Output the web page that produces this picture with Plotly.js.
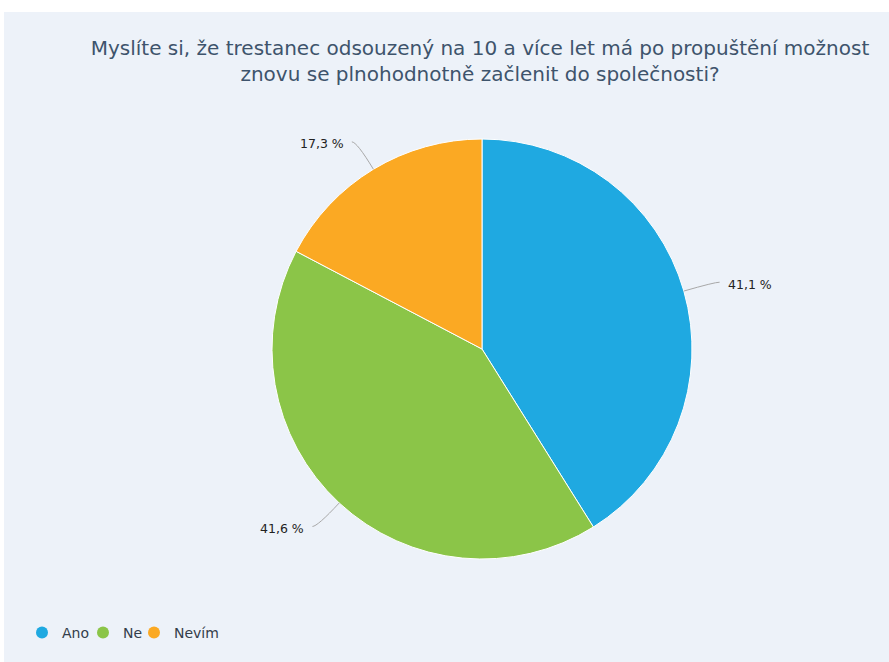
<!DOCTYPE html>
<html>
<head>
<meta charset="utf-8">
<script src="https://cdn.plot.ly/plotly-3.0.1.min.js"></script>
<style>html,body{margin:0;padding:0;background:#fff;}#chart{width:889px;height:662px;}</style>
</head>
<body>
<div id="chart"></div>
<script>
// Data
const categories = ['Ano', 'Ne', 'Nevím'];
const values = [41.1, 41.6, 17.3];
const valueLabels = ['41,1 %', '41,6 %', '17,3 %'];
const colors = ['#1fa9e1', '#8bc548', '#fba923'];
const titleText = 'Myslíte si, že trestanec odsouzený na 10 a více let má po propuštění možnost<br>znovu se plnohodnotně začlenit do společnosti?';

// Layout geometry (pixels)
const W = 889, H = 662;
const cx = 482, cy = 349, R = 210;
const legendX = [22, 83, 134];
const legendNames = ['legend', 'legend2', 'legend3'];

const total = values.reduce((a, b) => a + b, 0);
const shapes = [{
  type: 'rect', xref: 'x', yref: 'y', x0: 4, x1: W, y0: 12, y1: H,
  fillcolor: '#edf2f9', line: {width: 0}, layer: 'below'
}];
const annotations = [];
let cum = 0;
values.forEach((v, i) => {
  const mid = (cum + v / 2) / total * 2 * Math.PI;
  cum += v;
  const sx = Math.sin(mid), sy = -Math.cos(mid);
  const p0 = [cx + R * sx, cy + R * sy];
  const e = [cx + (R + 32) * sx, cy + (R + 32) * sy];
  const dir = sx >= 0 ? 1 : -1;
  const t = [e[0] + dir * 5, e[1]];
  shapes.push({
    type: 'path', xref: 'x', yref: 'y', layer: 'above',
    path: `M ${p0[0]} ${p0[1]} Q ${e[0]} ${e[1]} ${t[0]} ${t[1]}`,
    line: {color: '#a8a8a8', width: 1}
  });
  annotations.push({
    xref: 'x', yref: 'y', x: t[0] + dir * 6, y: t[1] + 2,
    text: valueLabels[i], showarrow: false,
    xanchor: dir > 0 ? 'left' : 'right', yanchor: 'middle',
    font: {family: 'DejaVu Sans', size: 12.5, color: '#222222'}
  });
});

const traces = [{
  type: 'pie', labels: categories, values: values,
  sort: false, direction: 'clockwise', rotation: 0,
  marker: {colors: colors, line: {color: '#ffffff', width: 1}},
  textinfo: 'none', hoverinfo: 'label+percent', showlegend: false,
  domain: {x: [(cx - R) / W, (cx + R) / W], y: [1 - (cy + R) / H, 1 - (cy - R) / H]}
}];
categories.forEach((c, i) => {
  traces.push({
    type: 'scatter', mode: 'markers', x: [null], y: [null], name: c,
    marker: {symbol: 'circle', size: 12, color: colors[i]},
    showlegend: true, hoverinfo: 'skip', legend: legendNames[i]
  });
});

const layout = {
  width: W, height: H,
  margin: {l: 0, r: 0, t: 0, b: 0},
  paper_bgcolor: '#ffffff', plot_bgcolor: 'rgba(0,0,0,0)',
  xaxis: {range: [0, W], visible: false, fixedrange: true},
  yaxis: {range: [H, 0], visible: false, fixedrange: true},
  title: {
    text: titleText, x: 480 / W, xanchor: 'center', y: 1 - 55 / H, yanchor: 'middle',
    font: {family: 'DejaVu Sans', size: 20, color: '#3e546c'}
  },
  showlegend: true,
  shapes: shapes,
  annotations: annotations
};
legendNames.forEach((ln, i) => {
  layout[ln] = {
    orientation: 'h', x: legendX[i] / W, xanchor: 'left', y: 1 - 633 / H, yanchor: 'middle',
    bgcolor: 'rgba(0,0,0,0)', font: {family: 'DejaVu Sans', size: 14, color: '#333d4a'},
    itemwidth: 30
  };
});

Plotly.newPlot('chart', traces, layout, {displayModeBar: false, staticPlot: true});
</script>
</body>
</html>
